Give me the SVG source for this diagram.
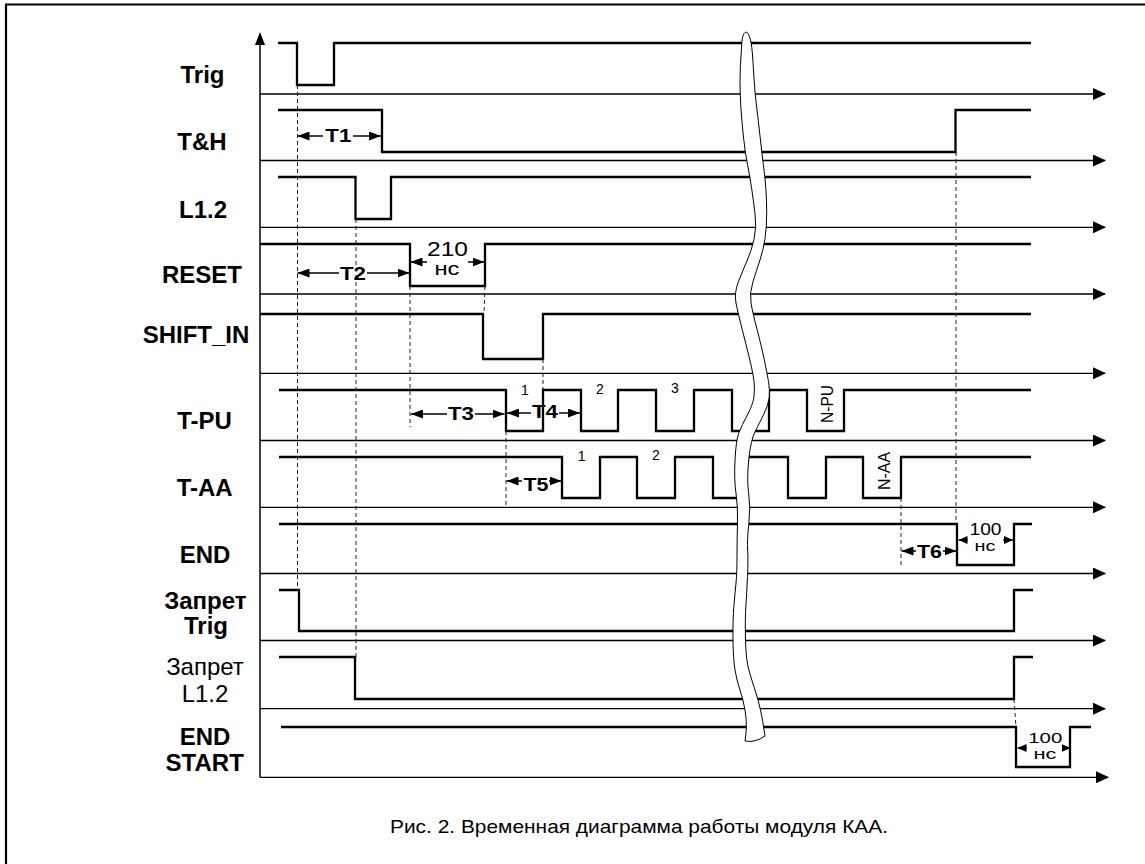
<svg xmlns="http://www.w3.org/2000/svg" width="1145" height="864" viewBox="0 0 1145 864">
<style>
.lbl{font-family:"Liberation Sans",Arial,sans-serif;font-weight:bold;font-size:24px;text-anchor:middle;fill:#000}
.lblr{font-family:"Liberation Sans",Arial,sans-serif;font-size:24px;text-anchor:middle;fill:#000}
.ax{fill:none;stroke:#000;stroke-width:1.3;marker-end:url(#axa)}
.sig{fill:none;stroke:#000;stroke-width:2.3;stroke-linejoin:miter}
.dash{fill:none;stroke:#222;stroke-width:1;stroke-dasharray:4 3}
.dim{fill:none;stroke:#000;stroke-width:1.5;marker-end:url(#da)}
.dims{fill:none;stroke:#000;stroke-width:1.3;marker-end:url(#ds)}
.tl{font-family:"Liberation Sans",Arial,sans-serif;font-weight:bold;font-size:19px;text-anchor:middle;fill:#000}
.num{font-family:"Liberation Sans",Arial,sans-serif;font-size:14px;text-anchor:middle;fill:#000}
.rt{font-family:"Liberation Sans",Arial,sans-serif;font-size:17px;text-anchor:middle;fill:#000}
.ns{font-family:"Liberation Sans",Arial,sans-serif;text-anchor:middle;fill:#000}
</style>
<defs>
<marker id="axa" viewBox="0 0 13 12" refX="12" refY="6" markerWidth="13" markerHeight="12" orient="auto" markerUnits="userSpaceOnUse"><path d="M0,0L13,6L0,12z" fill="#000"/></marker>
<marker id="da" viewBox="0 0 12 9" refX="12" refY="4.5" markerWidth="12" markerHeight="9" orient="auto" markerUnits="userSpaceOnUse"><path d="M0,0L12,4.5L0,9z" fill="#000"/></marker>
<marker id="ds" viewBox="0 0 9 8" refX="9" refY="4" markerWidth="9" markerHeight="8" orient="auto" markerUnits="userSpaceOnUse"><path d="M0,0L9,4L0,8z" fill="#000"/></marker>
</defs>
<rect width="1145" height="864" fill="#fff"/>
<path d="M6,868V4.5H1148" fill="none" stroke="#000" stroke-width="2.2"/>

<g id="vertical-axis">
<line x1="260" y1="44" x2="260" y2="777.3" stroke="#000" stroke-width="1.5"/>
<path d="M260,32L255,45L265,45z" fill="#000"/>
</g>

<g id="sig-trig">
<text class="lbl" x="202.5" y="83">Trig</text>
<line class="ax" x1="260" y1="94" x2="1105" y2="94"/>
<path class="sig" d="M278,43H297V85H334V43H1031"/>
</g>
<g id="sig-th">
<text class="lbl" x="202" y="150">T&amp;H</text>
<line class="ax" x1="260" y1="160.5" x2="1105" y2="160.5"/>
<path class="sig" d="M278,110H382V152H955.5V110H1031"/>
</g>
<g id="sig-l12">
<text class="lbl" x="203" y="217.7">L1.2</text>
<line class="ax" x1="260" y1="227.3" x2="1105" y2="227.3"/>
<path class="sig" d="M278,177H355.5V219H391V177H1031"/>
</g>
<g id="sig-reset">
<text class="lbl" x="202" y="283.3">RESET</text>
<line class="ax" x1="260" y1="294" x2="1105" y2="294"/>
<path class="sig" d="M260,244H410V286H485V244H1031"/>
</g>
<g id="sig-shift-in">
<text class="lbl" x="196" y="342.7">SHIFT_IN</text>
<line class="ax" x1="260" y1="373.3" x2="1105" y2="373.3"/>
<path class="sig" d="M260,314H483V359H543V314H1031"/>
</g>
<g id="sig-tpu">
<text class="lbl" x="204.5" y="429.3">T-PU</text>
<line class="ax" x1="260" y1="440.5" x2="1105" y2="440.5"/>
<path class="sig" d="M279,390H506V431H543V390H581V431H618V390H656V431H694V390H732V431H769V390H807V431H844V390H1031"/>
<text class="num" x="525" y="395">1</text>
<text class="num" x="600" y="394">2</text>
<text class="num" x="675" y="393">3</text>
<text class="rt" x="833" y="404" transform="rotate(-90 833 404)" textLength="38" lengthAdjust="spacingAndGlyphs">N-PU</text>
</g>
<g id="sig-taa">
<text class="lbl" x="204.7" y="496">T-AA</text>
<line class="ax" x1="260" y1="507.3" x2="1105" y2="507.3"/>
<path class="sig" d="M279,457H562V498H600V457H637V498H675V457H713V498H742V457H788V498H826V457H863V498H901V457H1031"/>
<text class="num" x="581.7" y="461">1</text>
<text class="num" x="656" y="460">2</text>
<text class="rt" x="890" y="471" transform="rotate(-90 890 471)" textLength="38" lengthAdjust="spacingAndGlyphs">N-AA</text>
</g>
<g id="sig-end">
<text class="lbl" x="205" y="562.7">END</text>
<line class="ax" x1="260" y1="573.5" x2="1105" y2="573.5"/>
<path class="sig" d="M279,524H957V565H1014V524H1032"/>
</g>
<g id="sig-zapret-trig">
<text class="lbl" x="205.3" y="609.3">Запрет</text>
<text class="lbl" x="206" y="634">Trig</text>
<line class="ax" x1="260" y1="640.5" x2="1105" y2="640.5"/>
<path class="sig" d="M279,590H299V631H1014V590H1033"/>
</g>
<g id="sig-zapret-l12">
<text class="lblr" x="205" y="675">Запрет</text>
<text class="lblr" x="205" y="701.7">L1.2</text>
<line class="ax" x1="260" y1="708.7" x2="1105" y2="708.7"/>
<path class="sig" d="M279,657H355V699H1014V657H1033"/>
</g>
<g id="sig-end-start">
<text class="lbl" x="205" y="745">END</text>
<text class="lbl" x="204.7" y="771">START</text>
<line class="ax" x1="260" y1="777.3" x2="1108" y2="777.3"/>
<path class="sig" d="M281,727H1016V767H1070V727H1091"/>
</g>

<g id="connectors">
<path class="dash" d="M297.5,85V590"/>
<path class="dash" d="M356,219V657"/>
<path class="dash" d="M410,286V427"/>
<path class="dash" d="M485,286L484,314"/>
<path class="dash" d="M543,359V390"/>
<path class="dash" d="M506,431V507"/>
<path class="dash" d="M956,152V524"/>
<path class="dash" d="M901,498V567"/>
<path class="dash" d="M1014,699L1016,727"/>

<line class="dim" x1="323" y1="136" x2="297.5" y2="136"/>
<line class="dim" x1="353" y1="136" x2="381" y2="136"/>
<text class="tl" x="338.3" y="142" textLength="26" lengthAdjust="spacingAndGlyphs">T1</text>

<line class="dim" x1="339" y1="273" x2="297.5" y2="273"/>
<line class="dim" x1="367" y1="273" x2="409.5" y2="273"/>
<text class="tl" x="353" y="279.5" textLength="26" lengthAdjust="spacingAndGlyphs">T2</text>

<line class="dim" x1="427" y1="262" x2="410.5" y2="262"/>
<line class="dim" x1="468" y1="262" x2="484.5" y2="262"/>
<text class="ns" x="447.5" y="256" font-size="21" textLength="41" lengthAdjust="spacingAndGlyphs">210</text>
<text class="ns" x="447" y="275" font-size="19" textLength="25" lengthAdjust="spacingAndGlyphs">нс</text>

<line class="dim" x1="447" y1="414" x2="411" y2="414"/>
<line class="dim" x1="475" y1="414" x2="504.5" y2="414"/>
<text class="tl" x="461" y="420.3" textLength="26" lengthAdjust="spacingAndGlyphs">T3</text>

<line class="dim" x1="531" y1="413" x2="507" y2="413"/>
<line class="dim" x1="559" y1="413" x2="580" y2="413"/>
<text class="tl" x="545" y="417.5" textLength="26" lengthAdjust="spacingAndGlyphs">T4</text>

<line class="dim" x1="522" y1="481" x2="506.5" y2="481"/>
<line class="dim" x1="549" y1="481" x2="561.5" y2="481"/>
<text class="tl" x="536" y="491" textLength="25" lengthAdjust="spacingAndGlyphs">T5</text>

<line class="dim" x1="916" y1="551" x2="901.5" y2="551"/>
<line class="dim" x1="943" y1="551" x2="956.5" y2="551"/>
<text class="tl" x="929.5" y="557.5" textLength="25" lengthAdjust="spacingAndGlyphs">T6</text>

<line class="dims" x1="968" y1="540" x2="958.5" y2="540"/>
<line class="dims" x1="1003" y1="540" x2="1013" y2="540"/>
<text class="ns" x="985.5" y="535" font-size="17" textLength="32" lengthAdjust="spacingAndGlyphs">100</text>
<text class="ns" x="985" y="551" font-size="14.5" textLength="21" lengthAdjust="spacingAndGlyphs">нс</text>

<line class="dims" x1="1027" y1="748" x2="1017.5" y2="748"/>
<line class="dims" x1="1062" y1="748" x2="1070.5" y2="748"/>
<text class="ns" x="1045.3" y="742.5" font-size="15.5" textLength="34" lengthAdjust="spacingAndGlyphs">100</text>
<text class="ns" x="1045" y="758.5" font-size="15.5" textLength="23" lengthAdjust="spacingAndGlyphs">нс</text>
</g>

<g id="break">
<path d="M746,32C743,33 741.9,38 741.5,48Q740,67 740,80.5Q740,94 740.85,107Q741.7,120 743.35,136Q745,152 747.5,164.5Q750,177 751.65,188.5Q753.3,200 755,213.5Q756.7,227 754.2,238.5Q751.7,250 747.35,260Q743,270 738.5,281.5Q734,293 736,303Q738,313 742.35,330Q746.7,347 749.85,360Q753,373 754,381.5Q755,390 753.85,397.5Q752.7,405 747.35,415Q742,425 739,432.5Q736,440 735,460Q734,480 736,493.5Q738,507 737.5,523.5Q737,540 737,556.5Q737,573 736,583Q735,593 733.85,606.5Q732.7,620 733,640Q733.3,660 735,670Q736.7,680 740,690Q743.3,700 745,710Q746.7,720 746.35,727.5Q746,735 745,741Q755,743 765,736Q762.7,720 760.5,710Q758.3,700 755,690Q751.7,680 748.85,670Q746,660 745.5,640Q745,620 745.850,606.5Q746.7,593 747.5,576.5Q748.3,560 747.65,550Q747,540 748.85,523.5Q750.7,507 748.7,493.5Q746.7,480 748.7,460Q750.7,440 755.35,431Q760,422 764.15,413.5Q768.3,405 769.15,397.5Q770,390 768.5,381.5Q767,373 764.35,360Q761.7,347 757.2,330Q752.7,313 751,303Q749.3,293 753,281.5Q756.7,270 760,260Q763.3,250 765,238.5Q766.7,227 766.7,213.5Q766.7,200 765.85,188.5Q765,177 763.35,164.5Q761.7,152 760,136Q758.3,120 756.65,107Q755,94 754.15,80.5Q753.3,67 752.5,55C751.8,45 750,33 746,32Z" fill="#fff" stroke="#000" stroke-width="1"/>
</g>

<text x="390" y="833" font-family="'Liberation Sans',Arial,sans-serif" font-size="18.5" textLength="498" lengthAdjust="spacingAndGlyphs" fill="#000">Рис. 2. Временная диаграмма работы модуля КАА.</text>
</svg>
